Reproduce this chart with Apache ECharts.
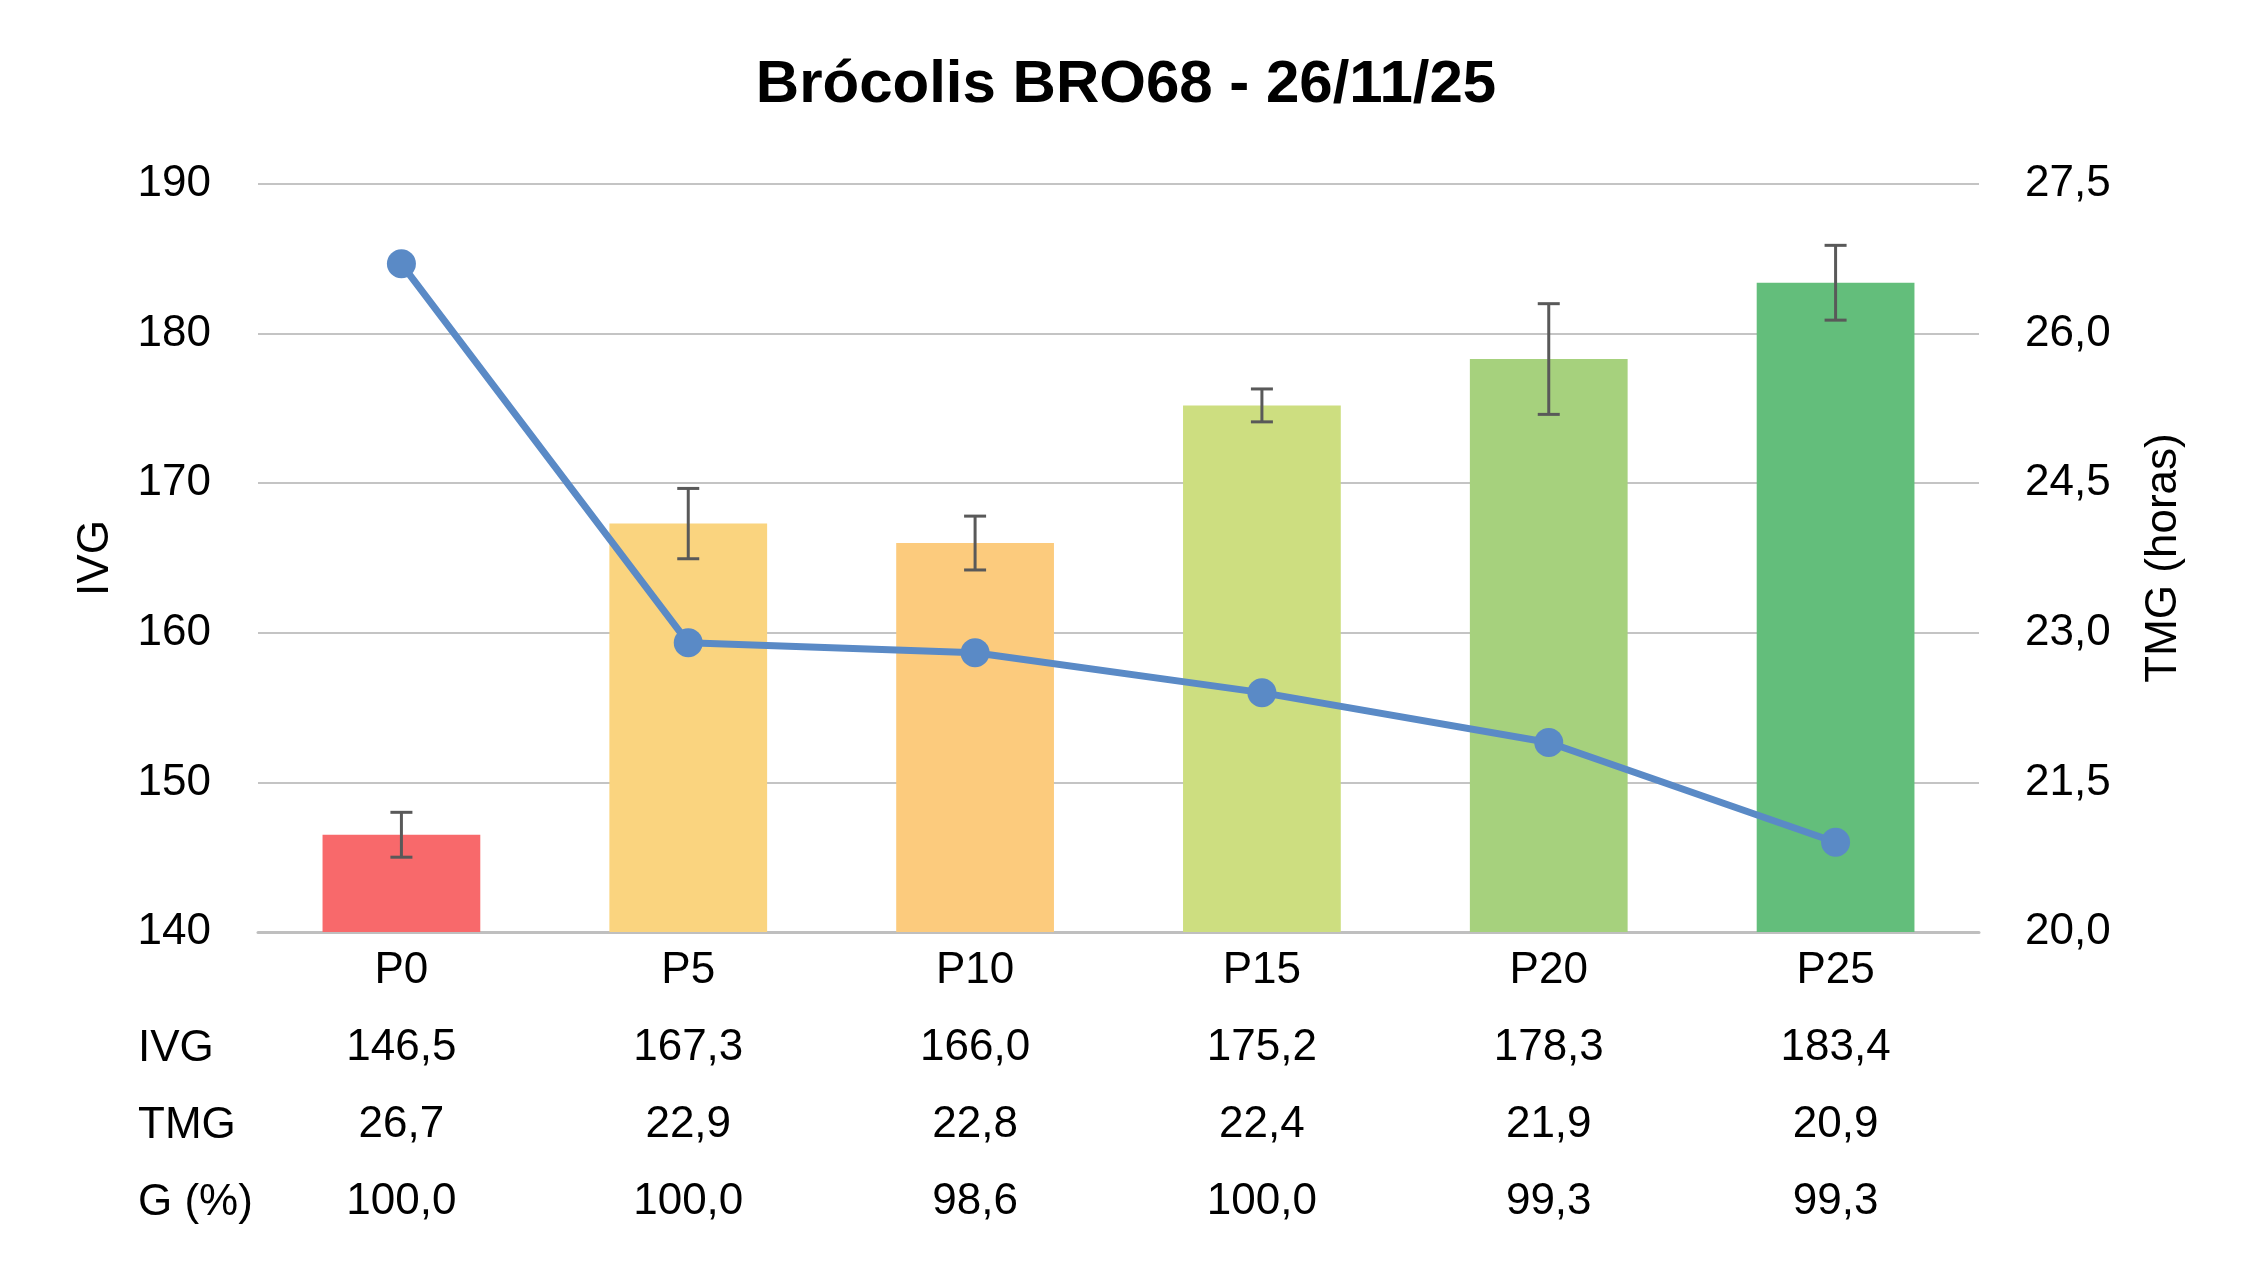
<!DOCTYPE html>
<html>
<head>
<meta charset="utf-8">
<title>Brócolis BRO68</title>
<script src="https://cdn.jsdelivr.net/npm/echarts@6/dist/echarts.min.js"></script>
<style>
  html, body { margin: 0; padding: 0; background: #ffffff; }
  #chart { width: 2252px; height: 1266px; }
</style>
</head>
<body>
<div id="chart"></div>
<script>
  // datos
  var categorias = ['P0', 'P5', 'P10', 'P15', 'P20', 'P25'];
  var ivg = [146.5, 167.3, 166.0, 175.2, 178.3, 183.4];
  var ivgError = [1.5, 2.35, 1.8, 1.1, 3.7, 2.5];
  var tmg = [26.7, 22.9, 22.8, 22.4, 21.9, 20.9];
  var germinacion = [100.0, 100.0, 98.6, 100.0, 99.3, 99.3];
  var filas = ['IVG', 'TMG', 'G (%)'];

  // colores de las barras
  var barColors = ['#F8696B', '#FAD47F', '#FCCB7D', '#CDDE80', '#A6D17D', '#63BE7B'];

  var fuente = "'Liberation Sans', Arial, sans-serif";

  function coma(v) {
    return v.toFixed(1).replace('.', ',');
  }

  var chart = echarts.init(document.getElementById('chart'));

  var barData = ivg.map(function (v, i) {
    return { value: v, itemStyle: { color: barColors[i] } };
  });
  var errData = ivg.map(function (v, i) {
    return [i, v - ivgError[i], v + ivgError[i]];
  });

  var option = {
    backgroundColor: '#ffffff',
    animation: false,
    title: {
      text: 'Brócolis BRO68 - 26/11/25',
      left: 'center',
      top: 50,
      textStyle: {
        fontFamily: fuente,
        fontWeight: 'bold',
        fontSize: 60,
        color: '#000000'
      }
    },
    grid: {
      left: 258,
      right: 273,
      top: 184,
      bottom: 334
    },
    xAxis: {
      type: 'category',
      data: categorias,
      axisTick: { show: false },
      axisLine: { lineStyle: { color: '#BFBFBF', width: 3 } },
      axisLabel: {
        margin: 0,
        fontFamily: fuente,
        fontSize: 44,
        lineHeight: 77,
        color: '#000000',
        formatter: function (value, idx) {
          return [value, coma(ivg[idx]), coma(tmg[idx]), coma(germinacion[idx])].join('\n');
        }
      }
    },
    yAxis: [{
      type: 'value',
      min: 140,
      max: 190,
      interval: 10,
      name: 'IVG',
      nameLocation: 'middle',
      nameRotate: 90,
      nameGap: 140,
      nameTextStyle: { fontFamily: fuente, fontSize: 44, color: '#000000' },
      axisLine: { show: false },
      axisTick: { show: false },
      axisLabel: { margin: 47, fontFamily: fuente, fontSize: 44, color: '#000000' },
      splitLine: { lineStyle: { color: '#C4C4C4', width: 2 } }
    }, {
      type: 'value',
      min: 20,
      max: 27.5,
      interval: 1.5,
      name: 'TMG (horas)',
      nameLocation: 'middle',
      nameRotate: 90,
      nameGap: 163,
      nameTextStyle: { fontFamily: fuente, fontSize: 44, color: '#000000' },
      axisLine: { show: false },
      axisTick: { show: false },
      splitLine: { show: false },
      axisLabel: {
        margin: 46,
        fontFamily: fuente,
        fontSize: 44,
        color: '#000000',
        formatter: function (v) { return coma(v); }
      }
    }],
    // encabezados de las filas de la tabla
    graphic: filas.map(function (t, i) {
      return {
        type: 'text',
        left: 138,
        top: 1044 + i * 77 - 17,
        style: {
          text: t,
          fontFamily: fuente,
          fontSize: 44,
          fill: '#000000'
        }
      };
    }),
    series: [{
      name: 'IVG',
      type: 'bar',
      data: barData,
      barWidth: '55%',
      z: 2
    }, {
      // barras de error
      name: 'error',
      type: 'custom',
      data: errData,
      z: 3,
      renderItem: function (params, api) {
        var x = api.value(0);
        var bajo = api.coord([x, api.value(1)]);
        var alto = api.coord([x, api.value(2)]);
        var w = 11;
        var estilo = { stroke: '#595959', lineWidth: 3 };
        return {
          type: 'group',
          children: [
            { type: 'line', shape: { x1: alto[0], y1: alto[1], x2: bajo[0], y2: bajo[1] }, style: estilo },
            { type: 'line', shape: { x1: alto[0] - w, y1: alto[1], x2: alto[0] + w, y2: alto[1] }, style: estilo },
            { type: 'line', shape: { x1: bajo[0] - w, y1: bajo[1], x2: bajo[0] + w, y2: bajo[1] }, style: estilo }
          ]
        };
      }
    }, {
      name: 'TMG',
      type: 'line',
      yAxisIndex: 1,
      data: tmg,
      symbol: 'circle',
      symbolSize: 29,
      z: 4,
      lineStyle: { color: '#5A8AC6', width: 7 },
      itemStyle: { color: '#5A8AC6' }
    }]
  };

  chart.setOption(option);
</script>
</body>
</html>
